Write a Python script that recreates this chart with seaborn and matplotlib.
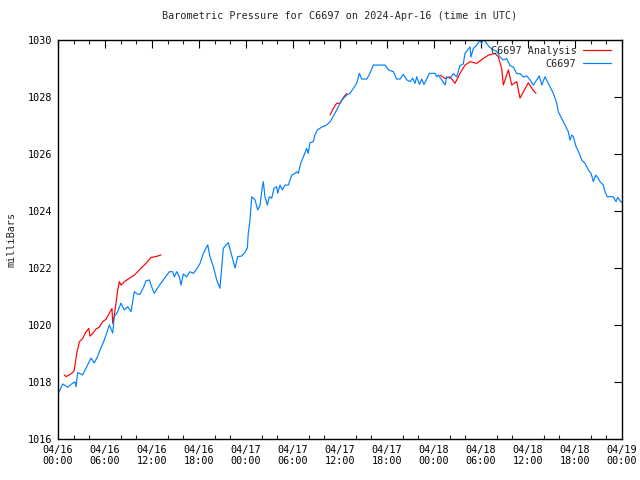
import numpy as np
import pandas as pd
import matplotlib
matplotlib.use("Agg")
import matplotlib.pyplot as plt
import matplotlib.dates as mdates
import seaborn as sns

# ---- data (hours since 2024-04-16 00:00 UTC, pressure in mbar) ----
obs_hours = [0.0, 0.60, 1.24, 1.88, 2.17, 2.30, 2.51, 3.15, 3.79, 4.21, 4.63, 5.07, 5.27, 5.91,
             6.34, 6.55, 6.98, 7.19, 7.62, 8.04, 8.46, 8.90, 9.32, 9.74, 10.17, 10.47, 10.92,
             11.23, 11.66, 11.87, 12.29, 12.80, 13.44, 14.21, 14.64, 14.85, 15.15, 15.49, 15.70,
             16.00, 16.43, 16.85, 17.27, 17.62, 18.13, 18.55, 19.11, 19.40, 19.83, 20.26, 20.68,
             21.10, 21.74, 21.96, 22.60, 22.94, 23.45, 23.87, 24.17, 24.29, 24.51, 24.73, 25.15,
             25.49, 25.79, 26.08, 26.21, 26.42, 26.72, 26.98, 27.28, 27.58, 27.92, 28.05, 28.34,
             28.64, 28.98, 29.40, 29.84, 30.26, 30.47, 30.68, 30.98, 31.41, 31.75, 31.95, 32.17,
             32.59, 32.81, 33.10, 33.70, 34.21, 34.73, 35.36, 35.78, 36.22, 36.86, 37.28, 37.70,
             38.13, 38.47, 38.77, 39.41, 39.83, 40.25, 41.75, 42.17, 42.81, 43.24, 43.66, 44.08,
             44.52, 44.94, 45.28, 45.58, 45.79, 46.13, 46.43, 46.73, 47.07, 47.40, 48.13, 48.35,
             48.55, 48.99, 49.41, 49.62, 50.04, 50.47, 50.90, 51.32, 51.74, 51.96, 52.30, 52.60,
             52.72, 53.02, 53.45, 53.87, 54.09, 54.30, 54.73, 55.06, 55.57, 56.01, 56.43, 56.85,
             57.28, 57.70, 58.13, 58.56, 58.98, 59.40, 59.84, 60.26, 60.68, 61.11, 61.45, 61.75,
             62.17, 62.81, 63.23, 63.67, 63.87, 64.30, 64.72, 65.15, 65.36, 65.58, 65.78, 66.13,
             66.55, 66.86, 67.28, 67.70, 68.05, 68.34, 68.65, 68.98, 69.19, 69.61, 69.83, 70.12,
             70.89, 71.23, 71.45, 71.83, 72.0]
obs_mbar = [1017.58, 1017.93, 1017.82, 1017.96, 1018.00, 1017.83, 1018.33, 1018.25, 1018.60,
            1018.84, 1018.67, 1018.90, 1019.06, 1019.47, 1019.82, 1020.00, 1019.72, 1020.29,
            1020.47, 1020.77, 1020.53, 1020.64, 1020.47, 1021.17, 1021.08, 1021.08, 1021.32,
            1021.55, 1021.58, 1021.40, 1021.11, 1021.34, 1021.58, 1021.87, 1021.87, 1021.69,
            1021.87, 1021.69, 1021.40, 1021.79, 1021.69, 1021.87, 1021.81, 1021.93, 1022.16,
            1022.51, 1022.81, 1022.40, 1022.05, 1021.58, 1021.29, 1022.69, 1022.89, 1022.66,
            1022.00, 1022.40, 1022.42, 1022.55, 1022.70, 1023.22, 1023.68, 1024.50, 1024.39,
            1024.04, 1024.20, 1024.85, 1025.03, 1024.50, 1024.21, 1024.50, 1024.45, 1024.80,
            1024.85, 1024.62, 1024.91, 1024.74, 1024.91, 1024.91, 1025.26, 1025.32, 1025.38,
            1025.32, 1025.67, 1025.96, 1026.20, 1026.02, 1026.40, 1026.43, 1026.67, 1026.84,
            1026.95, 1027.00, 1027.13, 1027.43, 1027.66, 1027.89, 1028.07, 1028.13, 1028.30,
            1028.48, 1028.83, 1028.63, 1028.63, 1028.83, 1029.12, 1029.12, 1028.95, 1028.89,
            1028.63, 1028.63, 1028.80, 1028.60, 1028.54, 1028.66, 1028.48, 1028.71, 1028.44,
            1028.63, 1028.44, 1028.63, 1028.83, 1028.83, 1028.71, 1028.77, 1028.60, 1028.42,
            1028.71, 1028.65, 1028.82, 1028.71, 1029.10, 1029.16, 1029.53, 1029.65, 1029.76,
            1029.40, 1029.70, 1029.82, 1029.99, 1029.87, 1030.05, 1029.87, 1029.76, 1029.65,
            1029.60, 1029.40, 1029.30, 1029.35, 1029.10, 1029.05, 1028.82, 1028.82, 1028.70,
            1028.74, 1028.60, 1028.42, 1028.60, 1028.74, 1028.42, 1028.71, 1028.36, 1028.13,
            1027.78, 1027.48, 1027.25, 1027.02, 1026.78, 1026.49, 1026.66, 1026.62, 1026.26,
            1026.02, 1025.79, 1025.67, 1025.44, 1025.32, 1025.03, 1025.26, 1025.14, 1025.03,
            1024.91, 1024.68, 1024.50, 1024.50, 1024.33, 1024.48, 1024.33, 1024.30]

ana1_hours = [0.80, 1.02, 1.44, 1.88, 2.08, 2.39, 2.72, 3.15, 3.57, 3.92, 4.09, 4.43, 4.85, 5.27,
              5.71, 6.13, 6.55, 6.89, 6.98, 7.19, 7.40, 7.62, 7.83, 8.04, 8.46, 9.10, 9.74, 10.38,
              10.81, 11.23, 11.87, 12.51, 13.15]
ana1_mbar = [1018.25, 1018.19, 1018.25, 1018.33, 1018.42, 1019.00, 1019.41, 1019.53, 1019.76,
             1019.88, 1019.61, 1019.70, 1019.86, 1019.92, 1020.12, 1020.20, 1020.41, 1020.58,
             1020.06, 1020.35, 1020.76, 1021.23, 1021.52, 1021.40, 1021.52, 1021.64, 1021.75,
             1021.93, 1022.05, 1022.16, 1022.37, 1022.40, 1022.46]
ana2_hours = [34.73, 35.15, 35.58, 36.00, 36.42, 36.86]
ana2_mbar = [1027.37, 1027.60, 1027.78, 1027.78, 1027.98, 1028.13]
ana3_hours = [48.77, 49.41, 50.04, 50.68, 51.32, 51.96, 52.60, 53.45, 54.30, 54.94, 55.79, 56.21,
              56.64, 56.85, 57.49, 57.92, 58.56, 58.98, 60.04, 60.68, 61.02]
ana3_mbar = [1028.77, 1028.65, 1028.71, 1028.48, 1028.83, 1029.12, 1029.24, 1029.18, 1029.35,
             1029.47, 1029.53, 1029.41, 1029.00, 1028.42, 1028.95, 1028.42, 1028.54, 1027.96,
             1028.50, 1028.23, 1028.13]

y_ticks = [1016, 1018, 1020, 1022, 1024, 1026, 1028, 1030]
title = "Barometric Pressure for C6697 on 2024-Apr-16 (time in UTC)"
start = pd.Timestamp("2024-04-16 00:00")
end = pd.Timestamp("2024-04-19 00:00")


def to_time(hours):
    return start + pd.to_timedelta(np.asarray(hours), unit="h")


sns.set_style("white")
plt.rcParams["font.family"] = ["DejaVu Sans Mono"]
plt.rcParams["font.size"] = 7.3

fig = plt.figure(figsize=(6.4, 4.8), dpi=100)
ax = fig.add_axes([58 / 640, 1 - 439 / 480, 564 / 640, 399 / 480])

red = "#ff0000"
blue = "#0080ff"

segments = [(ana1_hours, ana1_mbar), (ana2_hours, ana2_mbar), (ana3_hours, ana3_mbar)]
for i, (h, v) in enumerate(segments):
    df = pd.DataFrame({"time": to_time(h), "mbar": v})
    sns.lineplot(data=df, x="time", y="mbar", ax=ax, color=red, lw=0.85,
                 label="C6697 Analysis" if i == 0 else None, estimator=None, sort=False)

df_obs = pd.DataFrame({"time": to_time(obs_hours), "mbar": obs_mbar})
sns.lineplot(data=df_obs, x="time", y="mbar", ax=ax, color=blue, lw=0.85,
             label="C6697", estimator=None, sort=False)

ax.set_xlim(start, end)
ax.set_ylim(1016, 1030)
ax.set_yticks(y_ticks)
ax.xaxis.set_major_locator(mdates.HourLocator(byhour=[0, 6, 12, 18]))
ax.xaxis.set_major_formatter(mdates.DateFormatter("%m/%d\n%H:%M"))
ax.xaxis.set_minor_locator(mdates.HourLocator(interval=2))

ax.tick_params(axis="both", which="major", direction="in", length=6, width=0.8,
               top=True, right=True, colors="black", labelsize=7.3, pad=4)
ax.tick_params(axis="x", which="minor", direction="in", length=3, width=0.8,
               top=True, bottom=True)
for s in ax.spines.values():
    s.set_color("black")
    s.set_linewidth(1.0)

ax.set_xlabel("")
ax.set_ylabel("milliBars", fontsize=7.3, labelpad=8)
ax.set_title(title, fontsize=7.3, pad=15)

leg = ax.legend(loc="upper right", bbox_to_anchor=(1 - 9 / 564, 1 - 4 / 399),
                frameon=False, markerfirst=False, handlelength=2.8,
                handletextpad=0.6, labelspacing=0.25, borderaxespad=0.0, borderpad=0.2,
                fontsize=7.3)

fig.savefig("out.png", dpi=100)
